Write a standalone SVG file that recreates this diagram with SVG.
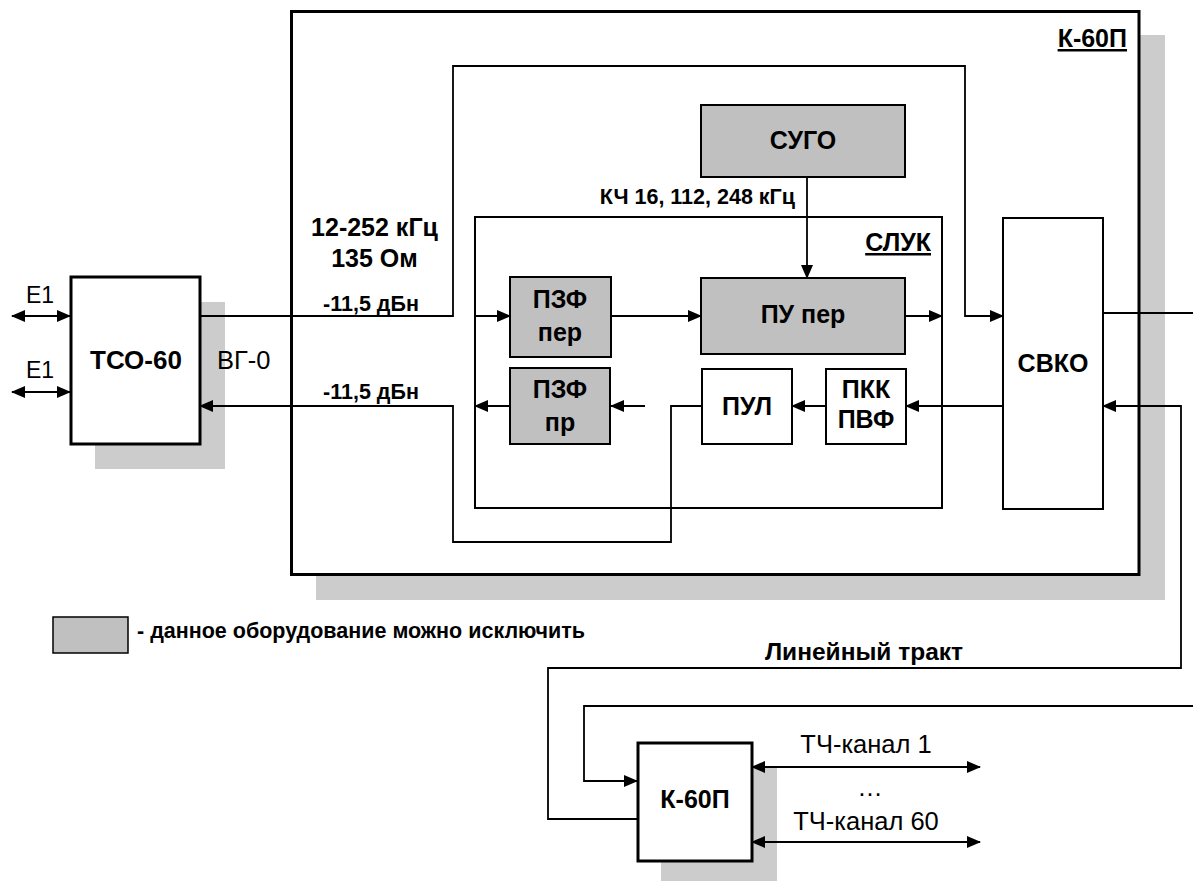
<svg xmlns="http://www.w3.org/2000/svg" width="1193" height="881" viewBox="0 0 1193 881">
<defs>
<marker id="ah" markerUnits="userSpaceOnUse" markerWidth="14" markerHeight="12" refX="13" refY="6" orient="auto-start-reverse" viewBox="0 0 14 12"><path d="M0,0 L14,6 L0,12 z" fill="#000"/></marker>
<style>
.box{fill:#fff;stroke:#000;stroke-width:2}
.gbox{fill:#c0c0c0;stroke:#000;stroke-width:2}
.thick{fill:#fff;stroke:#000;stroke-width:3}
.sh{fill:#cccccc}
.ln{fill:none;stroke:#000;stroke-width:1.8}
.arr{marker-end:url(#ah)}
.dbl{marker-start:url(#ah);marker-end:url(#ah)}
text{font-family:"Liberation Sans",Arial,sans-serif;fill:#000}
.b{font-weight:bold;font-size:25px}
.s{font-weight:bold;font-size:21.5px}
.r{font-size:25.5px}
.m{text-anchor:middle}
.e{text-anchor:end}
.u{text-decoration:underline}
</style>
</defs>
<rect width="1193" height="881" fill="#fff"/>

<g id="k60p-main">
<rect class="sh" x="316" y="35" width="849" height="565"/>
<rect class="thick" x="291.5" y="11.5" width="847.5" height="563"/>
<text class="b e u" x="1127" y="47">К-60П</text>
</g>

<g id="tso60">
<rect class="sh" x="95" y="302" width="130" height="167"/>
<rect class="thick" x="71" y="277" width="129" height="167"/>
<text class="b m" x="136" y="369" style="font-size:26px">ТСО-60</text>
</g>

<g id="k60p-remote">
<rect class="sh" x="661" y="767" width="116" height="120"/>
<rect class="thick" x="638" y="743" width="114" height="118"/>
<text class="b m" x="695" y="808">К-60П</text>
</g>

<g id="sugo">
<rect class="gbox" x="701" y="105" width="204" height="72"/>
<text class="b m" x="803" y="149">СУГО</text>
</g>

<g id="sluk">
<rect class="box" x="475" y="217" width="467" height="291" fill="none"/>
<text class="b e u" x="931" y="251">СЛУК</text>
</g>

<g id="pzf-per">
<rect class="gbox" x="510" y="277" width="101" height="80"/>
<text class="b m" x="560" y="308">ПЗФ</text>
<text class="b m" x="560" y="341">пер</text>
</g>

<g id="pu-per">
<rect class="gbox" x="701" y="278" width="204" height="76"/>
<text class="b m" x="803" y="323">ПУ пер</text>
</g>

<g id="pzf-pr">
<rect class="gbox" x="510" y="368" width="100" height="76"/>
<text class="b m" x="560" y="398">ПЗФ</text>
<text class="b m" x="560" y="431">пр</text>
</g>

<g id="pul">
<rect class="box" x="702" y="369" width="90" height="75"/>
<text class="b m" x="747" y="415">ПУЛ</text>
</g>

<g id="pkk-pvf">
<rect class="box" x="826" y="369" width="80" height="75"/>
<text class="b m" x="866" y="398">ПКК</text>
<text class="b m" x="866" y="428">ПВФ</text>
</g>

<g id="svko">
<rect class="box" x="1003" y="218" width="100" height="291"/>
<text class="b m" x="1053" y="372">СВКО</text>
</g>

<g id="legend">
<rect x="53" y="617" width="75" height="36" fill="#c0c0c0" stroke="#000" stroke-width="1.5"/>
<text class="s" x="137" y="638">- данное оборудование можно исключить</text>
</g>

<g id="connectors">
<path class="ln dbl" d="M12,316 H70"/>
<path class="ln dbl" d="M12,392 H70"/>
<path class="ln arr" d="M200,316 H453 V66 H965 V316 H1003"/>
<path class="ln arr" d="M702,406 H671 V542 H453 V406 H200"/>
<path class="ln arr" d="M807,177 V278"/>
<path class="ln arr" d="M475,316 H510"/>
<path class="ln arr" d="M611,316 H701"/>
<path class="ln arr" d="M905,316 H942"/>
<path class="ln arr" d="M1003,406 H906"/>
<path class="ln arr" d="M826,406 H792"/>
<path class="ln arr" d="M645,406 H611"/>
<path class="ln arr" d="M510,406 H475"/>
<path class="ln" d="M1103,313 H1193"/>
<path class="ln arr" d="M637,819 H548 V668 H1181 V406 H1103"/>
<path class="ln arr" d="M1193,706 H584 V781 H637"/>
<path class="ln dbl" d="M752,767 H980"/>
<path class="ln dbl" d="M752,842 H980"/>
</g>

<g id="labels">
<text class="r m" x="40" y="303" style="font-size:23px">E1</text>
<text class="r m" x="40" y="378" style="font-size:23px">E1</text>
<text class="r" x="217" y="369">ВГ-0</text>
<text class="b m" x="374.5" y="236">12-252 кГц</text>
<text class="b m" x="374.5" y="267">135 Ом</text>
<text class="s m" x="371" y="311">-11,5 дБн</text>
<text class="s m" x="371" y="399">-11,5 дБн</text>
<text class="s e" x="795" y="204">КЧ 16, 112, 248 кГц</text>
<text class="b m" x="864" y="660" style="font-size:24.5px">Линейный тракт</text>
<text class="r m" x="866" y="753">ТЧ-канал 1</text>
<text class="r m" x="870" y="796">…</text>
<text class="r m" x="866" y="830">ТЧ-канал 60</text>
</g>
</svg>
